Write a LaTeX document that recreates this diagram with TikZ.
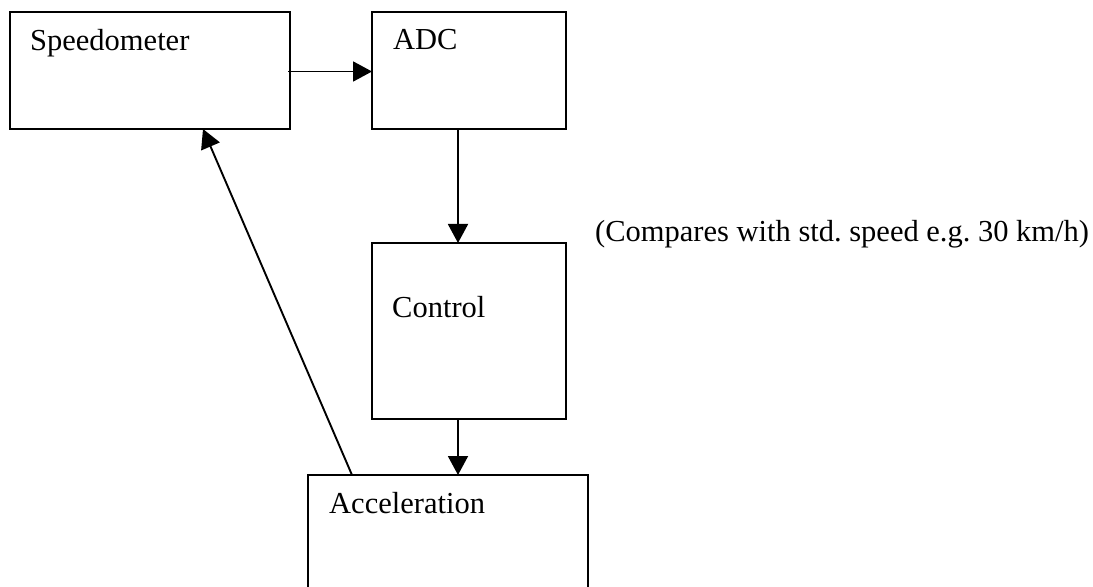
\documentclass[tikz,border=0pt]{standalone}
\usepackage{fontspec}
\setmainfont{Liberation Serif}
\usetikzlibrary{arrows.meta}
\frenchspacing
\begin{document}
\begin{tikzpicture}[x=1bp,y=-1bp,
  box/.style={draw, line width=1.9bp, rectangle, inner sep=0pt, outer sep=0pt},
  lbl/.style={anchor=base west, inner sep=0pt, font=\fontsize{30.5bp}{36bp}\selectfont},
  conn/.style={line width=1.9bp, -{Triangle[length=19bp,width=20bp]}}]
\useasboundingbox (0,0) rectangle (1093,587);
\node[box, minimum width=280bp, minimum height=117bp] (speedo) at (150,70.5) {};
\node[box, minimum width=194bp, minimum height=117bp] (adc) at (469,70.5) {};
\node[box, minimum width=194bp, minimum height=176bp] (ctrl) at (469,331) {};
\node[box, minimum width=280bp, minimum height=125bp] (acc) at (448,537.5) {};
\node[lbl] (t1) at (30,50.5) {Speedometer};
\node[lbl] (t2) at (393,50) {ADC};
\node[lbl] (t3) at (392,318) {Control};
\node[lbl] (t4) at (329,513) {Acceleration};
\node[lbl] (t5) at (595,242) {(Compares with std. speed e.g. 30 km/h)};
\draw[conn] ([xshift=-2bp,yshift=-1bp]speedo.east) -- ([yshift=-1bp]adc.west);
\draw[conn] ([xshift=-11bp]adc.south) -- ([xshift=-11bp]ctrl.north);
\draw[conn] ([xshift=-11bp]ctrl.south) -- ([xshift=10bp]acc.north);
\draw[conn] ([xshift=-96bp]acc.north) -- ([xshift=53bp]speedo.south);
\end{tikzpicture}
\end{document}
